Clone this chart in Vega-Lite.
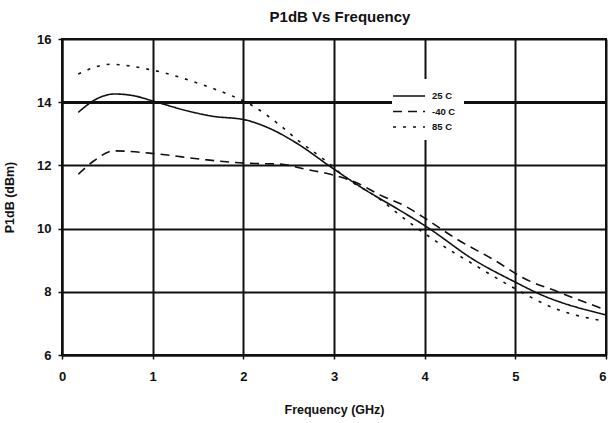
{
  "$schema": "https://vega.github.io/schema/vega-lite/v6.json",
  "width": 544,
  "height": 316,
  "autosize": {"type": "none"},
  "padding": {"left": 62, "top": 39, "right": 2, "bottom": 68},
  "background": "white",
  "title": {"text": "P1dB Vs Frequency", "font": "Liberation Sans", "fontSize": 15, "fontWeight": "bold", "color": "#111", "offset": 8, "dx": 6},
  "config": {
    "view": {"stroke": "#111", "strokeWidth": 2},
    "axis": {"labelFont": "Liberation Sans", "labelFontWeight": "bold", "labelFontSize": 13, "labelColor": "#111", "titleFont": "Liberation Sans", "titleFontWeight": "bold", "titleFontSize": 12.5, "titleColor": "#111", "gridColor": "#111", "gridOpacity": 1, "domainColor": "#111", "domainWidth": 2, "tickColor": "#111", "tickSize": 4, "tickWidth": 1.5}
  },
  "data": {"values": [
    {"series": "25 C", "freq": 0.18, "p1db": 13.68},
    {"series": "25 C", "freq": 0.36, "p1db": 14.07},
    {"series": "25 C", "freq": 0.58, "p1db": 14.26},
    {"series": "25 C", "freq": 0.8, "p1db": 14.2},
    {"series": "25 C", "freq": 1.0, "p1db": 14.04},
    {"series": "25 C", "freq": 1.39, "p1db": 13.72},
    {"series": "25 C", "freq": 1.65, "p1db": 13.56},
    {"series": "25 C", "freq": 2.02, "p1db": 13.44},
    {"series": "25 C", "freq": 2.29, "p1db": 13.17},
    {"series": "25 C", "freq": 2.59, "p1db": 12.7},
    {"series": "25 C", "freq": 2.96, "p1db": 11.96},
    {"series": "25 C", "freq": 3.32, "p1db": 11.27},
    {"series": "25 C", "freq": 3.69, "p1db": 10.64},
    {"series": "25 C", "freq": 4.02, "p1db": 10.06},
    {"series": "25 C", "freq": 4.55, "p1db": 9.0},
    {"series": "25 C", "freq": 4.99, "p1db": 8.32},
    {"series": "25 C", "freq": 5.29, "p1db": 7.9},
    {"series": "25 C", "freq": 6.0, "p1db": 7.27},
    {"series": "-40 C", "freq": 0.18, "p1db": 11.72},
    {"series": "-40 C", "freq": 0.35, "p1db": 12.14},
    {"series": "-40 C", "freq": 0.57, "p1db": 12.46},
    {"series": "-40 C", "freq": 1.03, "p1db": 12.37},
    {"series": "-40 C", "freq": 1.58, "p1db": 12.18},
    {"series": "-40 C", "freq": 2.02, "p1db": 12.07},
    {"series": "-40 C", "freq": 2.4, "p1db": 12.04},
    {"series": "-40 C", "freq": 2.7, "p1db": 11.87},
    {"series": "-40 C", "freq": 2.96, "p1db": 11.72},
    {"series": "-40 C", "freq": 3.25, "p1db": 11.45},
    {"series": "-40 C", "freq": 3.51, "p1db": 11.06},
    {"series": "-40 C", "freq": 3.8, "p1db": 10.69},
    {"series": "-40 C", "freq": 3.98, "p1db": 10.37},
    {"series": "-40 C", "freq": 4.37, "p1db": 9.64},
    {"series": "-40 C", "freq": 4.77, "p1db": 9.0},
    {"series": "-40 C", "freq": 5.1, "p1db": 8.42},
    {"series": "-40 C", "freq": 5.47, "p1db": 8.0},
    {"series": "-40 C", "freq": 6.0, "p1db": 7.42},
    {"series": "85 C", "freq": 0.18, "p1db": 14.89},
    {"series": "85 C", "freq": 0.53, "p1db": 15.2},
    {"series": "85 C", "freq": 0.99, "p1db": 15.02},
    {"series": "85 C", "freq": 1.61, "p1db": 14.49},
    {"series": "85 C", "freq": 1.85, "p1db": 14.23},
    {"series": "85 C", "freq": 2.07, "p1db": 13.94},
    {"series": "85 C", "freq": 2.4, "p1db": 13.28},
    {"series": "85 C", "freq": 2.6, "p1db": 12.8},
    {"series": "85 C", "freq": 2.92, "p1db": 12.12},
    {"series": "85 C", "freq": 3.14, "p1db": 11.59},
    {"series": "85 C", "freq": 3.47, "p1db": 11.0},
    {"series": "85 C", "freq": 3.82, "p1db": 10.22},
    {"series": "85 C", "freq": 4.13, "p1db": 9.59},
    {"series": "85 C", "freq": 4.55, "p1db": 8.85},
    {"series": "85 C", "freq": 4.99, "p1db": 8.11},
    {"series": "85 C", "freq": 5.43, "p1db": 7.48},
    {"series": "85 C", "freq": 6.0, "p1db": 7.06}
  ]},
  "mark": {"type": "line", "interpolate": "monotone", "color": "#111", "strokeWidth": 1.6},
  "encoding": {
    "x": {"field": "freq", "type": "quantitative", "scale": {"domain": [0, 6], "nice": false}, "axis": {"values": [0, 1, 2, 3, 4, 5, 6], "title": "Frequency (GHz)", "titlePadding": 20, "labelPadding": 11, "labelFlush": false, "gridWidth": 2, "labelAlign": {"condition": {"test": "datum.value == 6", "value": "right"}, "value": "center"}}},
    "y": {"field": "p1db", "type": "quantitative", "scale": {"domain": [6, 16], "nice": false, "zero": false}, "axis": {"values": [6, 8, 10, 12, 14, 16], "title": "P1dB (dBm)", "titlePadding": 20, "labelPadding": 7, "gridWidth": {"condition": {"test": "datum.value == 14", "value": 3}, "value": 2}}},
    "strokeDash": {"field": "series", "type": "nominal", "scale": {"domain": ["25 C", "-40 C", "85 C"], "range": [[1, 0], [9, 6], [3, 7]]},
      "legend": {"title": null, "orient": "none", "legendX": 330, "legendY": 40, "fillColor": "white", "padding": 8, "symbolType": "M-2,0L2,0", "symbolSize": 256, "symbolStrokeWidth": 1.6, "symbolStrokeColor": "#111", "labelFont": "Liberation Sans", "labelFontWeight": "bold", "labelFontSize": 9.5, "labelColor": "#111", "rowPadding": 1.5, "labelOffset": 14}}
  }
}
